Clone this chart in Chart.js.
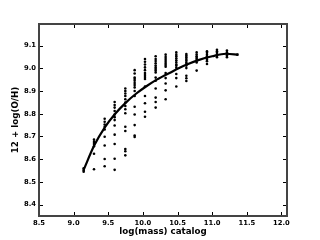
<!DOCTYPE html>
<html>
<head>
<meta charset="utf-8">
<script src="https://cdn.jsdelivr.net/npm/chart.js@4.4.1/dist/chart.umd.min.js"></script>
<style>
  html, body { margin: 0; padding: 0; background: #fff; }
  #wrap { width: 320px; height: 240px; }
</style>
</head>
<body>
<div id="wrap"><canvas id="massChart"></canvas></div>
<script>
// mass bins (x) and the metallicity values found in each bin
const massBins = [9.145, 9.294, 9.448, 9.592, 9.746, 9.881, 10.03, 10.184,
  10.328, 10.482, 10.627, 10.776, 10.925, 11.069, 11.213, 11.362];
const binValues = [
  [8.56, 8.55, 8.545],
  [8.686, 8.676, 8.667, 8.657, 8.624, 8.556],
  [8.778, 8.765, 8.753, 8.743, 8.731, 8.699, 8.66, 8.601, 8.569],
  [8.852, 8.838, 8.827, 8.812, 8.797, 8.785, 8.772, 8.748, 8.708, 8.667, 8.602, 8.553],
  [8.911, 8.9, 8.889, 8.878, 8.864, 8.849, 8.834, 8.82, 8.802, 8.743, 8.724, 8.645, 8.635, 8.617],
  [8.992, 8.977, 8.959, 8.953, 8.945, 8.935, 8.926, 8.916, 8.9, 8.878, 8.831, 8.797, 8.75, 8.704, 8.698],
  [9.041, 9.029, 9.017, 9.004, 8.992, 8.979, 8.97, 8.962, 8.953, 8.92, 8.878, 8.846, 8.809, 8.787],
  [9.053, 9.041, 9.032, 9.022, 9.012, 9.004, 8.997, 8.99, 8.982, 8.959, 8.945, 8.911, 8.871, 8.852, 8.827],
  [9.06, 9.05, 9.041, 9.032, 9.023, 9.015, 9.007, 8.979, 8.957, 8.933, 8.903, 8.864],
  [9.07, 9.06, 9.053, 9.044, 9.035, 9.026, 9.017, 9.012, 9.003, 8.975, 8.957, 8.92],
  [9.063, 9.056, 9.049, 9.041, 9.034, 9.026, 9.019, 9.012, 9.001, 8.967, 8.956, 8.944],
  [9.07, 9.061, 9.053, 9.047, 9.041, 9.034, 9.026, 8.99],
  [9.075, 9.068, 9.06, 9.053, 9.046, 9.038, 9.031, 9.019],
  [9.082, 9.075, 9.068, 9.061, 9.056, 9.049],
  [9.078, 9.07, 9.063, 9.056, 9.049],
  [9.06]
];

// fitted relation
const fitMass = [9.14, 9.3, 9.45, 9.6, 9.75, 9.9, 10.05, 10.2, 10.4, 10.6, 10.8, 11.0, 11.2, 11.38];
const fitOH   = [8.55, 8.662, 8.74, 8.8, 8.848, 8.888, 8.921, 8.95, 8.982, 9.012, 9.036, 9.053, 9.064, 9.06];

const scatterPts = [];
massBins.forEach((m, i) => binValues[i].forEach(v => scatterPts.push({ x: m, y: v })));
const fitPts = fitMass.map((m, i) => ({ x: m, y: fitOH[i] }));

// matplotlib style frame with inward ticks on all sides
const frameTicks = {
  id: "frameTicks",
  afterDatasetsDraw(chart) {
    const { ctx, chartArea: a, scales: { x, y } } = chart;
    ctx.save();
    ctx.strokeStyle = "#000";
    ctx.lineWidth = 1;
    ctx.beginPath();
    x.ticks.forEach(t => {
      const px = Math.round(x.getPixelForValue(t.value)) + 0.5;
      ctx.moveTo(px, a.bottom); ctx.lineTo(px, a.bottom - 4);
      ctx.moveTo(px, a.top); ctx.lineTo(px, a.top + 4);
    });
    y.ticks.forEach(t => {
      const py = Math.round(y.getPixelForValue(t.value)) + 0.5;
      ctx.moveTo(a.left, py); ctx.lineTo(a.left + 4, py);
      ctx.moveTo(a.right, py); ctx.lineTo(a.right - 4, py);
    });
    ctx.stroke();
    ctx.strokeStyle = "#444";
    ctx.lineWidth = 2;
    ctx.strokeRect(a.left, a.top, a.right - a.left, a.bottom - a.top);
    ctx.restore();
  }
};

const tickFont = { family: "DejaVu Sans", size: 6.8, weight: "bold" };
const titleFont = { family: "DejaVu Sans", size: 8.7, weight: "bold" };

new Chart(document.getElementById("massChart"), {
  type: "scatter",
  data: {
    datasets: [
      {
        data: scatterPts,
        pointRadius: 1.3,
        pointBackgroundColor: "#000",
        pointBorderWidth: 0
      },
      {
        type: "line",
        data: fitPts,
        borderColor: "#000",
        borderWidth: 2.2,
        pointRadius: 0,
        cubicInterpolationMode: "monotone",
        fill: false
      }
    ]
  },
  options: {
    responsive: true,
    maintainAspectRatio: false,
    animation: false,
    layout: { padding: { top: 24, right: 33, left: 0, bottom: 0 } },
    plugins: { legend: { display: false }, tooltip: { enabled: false } },
    scales: {
      x: {
        type: "linear",
        min: 8.5,
        max: 12.08,
        grid: { display: false, drawTicks: false },
        border: { display: false },
        ticks: {
          stepSize: 0.5,
          includeBounds: false,
          color: "#000",
          font: tickFont,
          padding: 3,
          maxRotation: 0,
          callback: v => v.toFixed(1)
        },
        title: {
          display: true,
          text: "log(mass) catalog",
          color: "#000",
          font: titleFont,
          padding: { top: 0, bottom: 3 }
        },
        afterFit: s => { s.height = 24; }
      },
      y: {
        type: "linear",
        min: 8.35,
        max: 9.195,
        grid: { display: false, drawTicks: false },
        border: { display: false },
        ticks: {
          stepSize: 0.1,
          includeBounds: false,
          color: "#000",
          font: tickFont,
          padding: 3,
          callback: v => v.toFixed(1)
        },
        title: {
          display: true,
          text: "12 + log(O/H)",
          color: "#000",
          font: titleFont,
          padding: { top: 11, bottom: 0 }
        },
        afterFit: s => { s.width = 39; }
      }
    }
  },
  plugins: [frameTicks]
});
</script>
</body>
</html>
